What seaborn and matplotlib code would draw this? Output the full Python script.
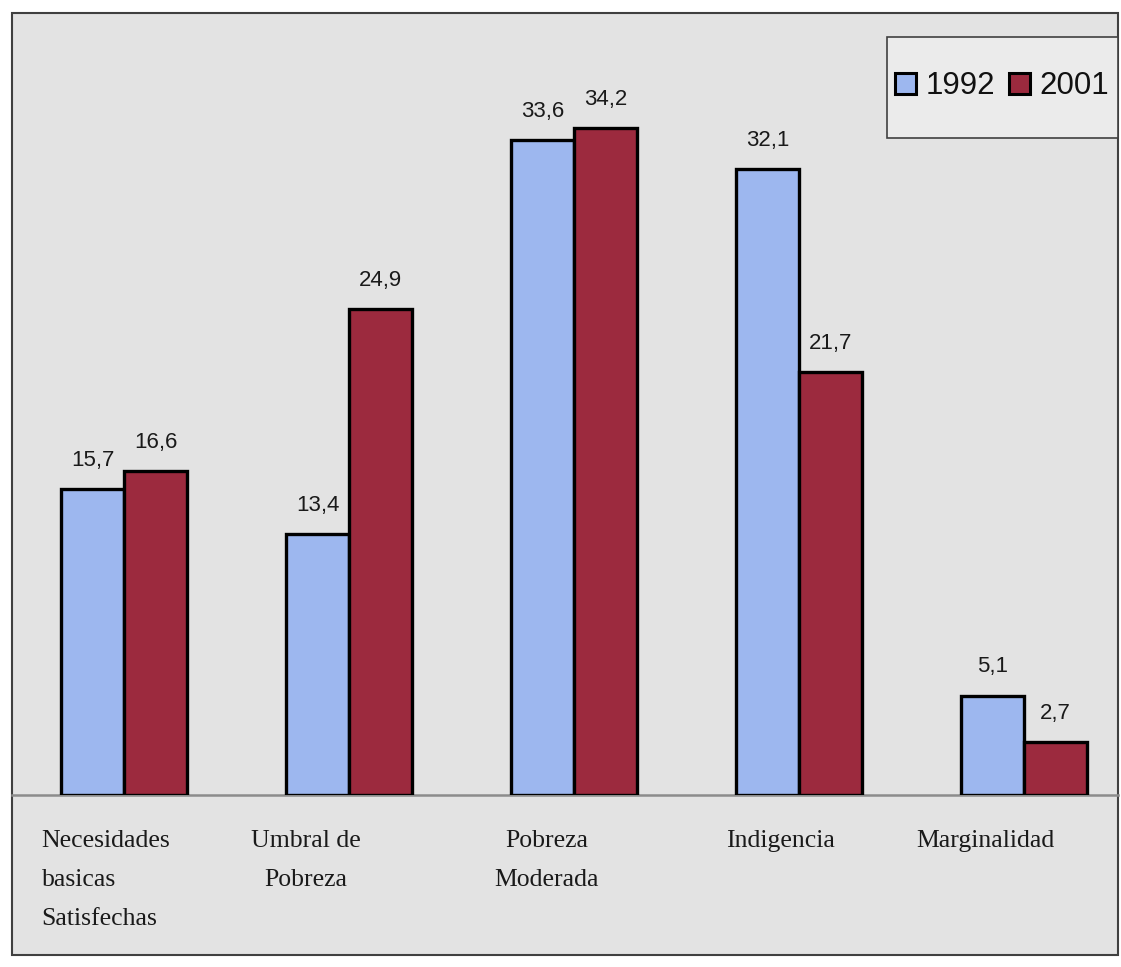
import matplotlib
matplotlib.use("Agg")
import matplotlib.pyplot as plt
import matplotlib.transforms as mtransforms
from matplotlib.patches import Rectangle, Patch
import seaborn as sns
import pandas as pd

categories = ["Necesidades\nbasicas\nSatisfechas", "Umbral de\nPobreza",
              "Pobreza\nModerada", "Indigencia", "Marginalidad"]
years = ["1992", "2001"]
values_1992 = [15.7, 13.4, 33.6, 32.1, 5.1]
values_2001 = [16.6, 24.9, 34.2, 21.7, 2.7]
value_labels_1992 = ["15,7", "13,4", "33,6", "32,1", "5,1"]
value_labels_2001 = ["16,6", "24,9", "34,2", "21,7", "2,7"]

df = pd.DataFrame({
    "cat": categories * 2,
    "year": [years[0]] * 5 + [years[1]] * 5,
    "val": values_1992 + values_2001,
})

sns.set_theme(style="white")
plt.rcParams["font.family"] = ["Liberation Sans", "DejaVu Sans"]

W, H = 1121, 967
fig = plt.figure(figsize=(W / 100, H / 100), dpi=100)
fig.patch.set_facecolor("white")

# framed grey chart area
bg = "#e3e3e3"
fig.patches.append(Rectangle((12 / W, 1 - 955 / H), (1118 - 12) / W, (955 - 13) / H,
                             transform=fig.transFigure, facecolor=bg,
                             edgecolor="#404040", linewidth=1.5, zorder=-5))

ax = fig.add_axes([12 / W, 1 - 795 / H, (1118 - 12) / W, (795 - 13) / H])
ax.set_facecolor("none")
ax.set_zorder(1)

colors = {"1992": "#9db7ef", "2001": "#9c2a3e"}
sns.barplot(data=df, x="cat", y="val", hue="year", palette=colors,
            width=0.56, edgecolor="black", linewidth=2.4, saturation=1,
            ax=ax, legend=False, zorder=3)

ax.set_xlim(-0.498, 4.418)
ax.set_ylim(0, 40.1)
ax.set_xlabel("")
ax.set_ylabel("")
ax.set_yticks([])
for s in ["top", "left", "right"]:
    ax.spines[s].set_visible(False)
ax.spines["bottom"].set_color("#8c8c8c")
ax.spines["bottom"].set_linewidth(1.8)
ax.spines["bottom"].set_zorder(2)

# value labels
for cont, labs in zip(ax.containers, [value_labels_1992, value_labels_2001]):
    ax.bar_label(cont, labels=labs, padding=13, fontsize=16, color="#1a1a1a")

# category labels
ax.tick_params(axis="x", length=0, pad=25)
label_shift_px = [-18, -43, -27, -19, -39]
multialign = ["left", "center", "center", "center", "center"]
for lbl, dx, ma in zip(ax.get_xticklabels(), label_shift_px, multialign):
    lbl.set_fontfamily(["Liberation Serif", "DejaVu Serif"])
    lbl.set_fontsize(18.5)
    lbl.set_color("#1a1a1a")
    lbl.set_linespacing(2.0)
    lbl.set_multialignment(ma)
    lbl.set_verticalalignment("top")
    lbl.set_transform(lbl.get_transform() +
                      mtransforms.ScaledTranslation(dx / 100, 0, fig.dpi_scale_trans))

# legend box
fig.patches.append(Rectangle((887 / W, 1 - 138 / H), (1118 - 887) / W, (138 - 37) / H,
                             transform=fig.transFigure, facecolor="#ebebeb",
                             edgecolor="#404040", linewidth=1.2, zorder=-4))
handles = [Patch(facecolor=colors[y], edgecolor="black", linewidth=2.2, label=y) for y in years]
leg = fig.legend(handles=handles, loc="center", ncol=2,
                 bbox_to_anchor=(1002 / W, 1 - 86 / H),
                 fontsize=22.5, frameon=False,
                 handlelength=0.66, handleheight=0.66, handletextpad=0.3,
                 columnspacing=0.45, borderpad=0, borderaxespad=0)
for t in leg.get_texts():
    t.set_color("#111111")

fig.savefig("out.png", dpi=100, facecolor="white")
